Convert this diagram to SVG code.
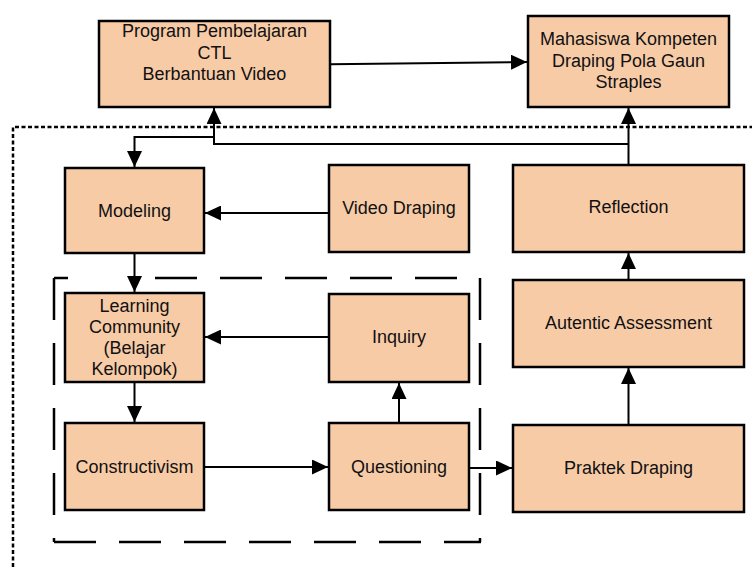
<svg xmlns="http://www.w3.org/2000/svg" width="752" height="568" viewBox="0 0 752 568">
<style>
.box{fill:#F8CBA7;stroke:#000;stroke-width:2.5}
.t{font-family:"Liberation Sans",Arial,sans-serif;font-size:18px;fill:#111;text-anchor:middle}
.c{fill:none;stroke:#000;stroke-width:2}
.dash{fill:none;stroke:#000;stroke-width:2.5;stroke-dasharray:42 23}
.dot{fill:none;stroke:#000;stroke-width:2.5;stroke-dasharray:4 2.5}
</style>
<defs>
<marker id="ah" viewBox="0 0 16 15" refX="16" refY="7.5" markerWidth="16" markerHeight="15" markerUnits="userSpaceOnUse" orient="auto">
<path d="M0,0 L16,7.5 L0,15 z" fill="#000"/>
</marker>
</defs>
<rect width="752" height="568" fill="#fff"/>
<g id="frame-dotted">
<path class="dot" d="M13,580 V127 H760"/>
</g>
<g id="frame-dashed">
<path class="dash" d="M54,278 H68"/>
<path class="dash" d="M155,278 H458"/>
<path class="dash" d="M54,278 V542"/>
<path class="dash" d="M480,278 V542"/>
<path class="dash" d="M54,542 H481"/>
</g>
<g id="program">
<rect class="box" x="99" y="21" width="231" height="86"/>
<text class="t" x="214.5" y="37">Program Pembelajaran</text>
<text class="t" x="214.5" y="59">CTL</text>
<text class="t" x="214.5" y="80">Berbantuan Video</text>
</g>
<g id="mahasiswa">
<rect class="box" x="528" y="16" width="201" height="91"/>
<text class="t" x="628.5" y="45">Mahasiswa Kompeten</text>
<text class="t" x="628.5" y="67">Draping Pola Gaun</text>
<text class="t" x="628.5" y="88">Straples</text>
</g>
<g id="modeling">
<rect class="box" x="65" y="168" width="139" height="85"/>
<text class="t" x="134.5" y="217">Modeling</text>
</g>
<g id="video">
<rect class="box" x="329" y="165" width="140" height="87"/>
<text class="t" x="399" y="214">Video Draping</text>
</g>
<g id="reflection">
<rect class="box" x="513" y="165" width="231" height="87"/>
<text class="t" x="628.5" y="213">Reflection</text>
</g>
<g id="learning">
<rect class="box" x="65" y="293" width="139" height="89"/>
<text class="t" x="134.5" y="311.5">Learning</text>
<text class="t" x="134.5" y="332.5">Community</text>
<text class="t" x="134.5" y="353.5">(Belajar</text>
<text class="t" x="134.5" y="374.5">Kelompok)</text>
</g>
<g id="inquiry">
<rect class="box" x="329" y="294" width="140" height="88"/>
<text class="t" x="399" y="343">Inquiry</text>
</g>
<g id="autentic">
<rect class="box" x="513" y="280" width="231" height="87"/>
<text class="t" x="628.5" y="329">Autentic Assessment</text>
</g>
<g id="constructivism">
<rect class="box" x="65" y="423" width="139" height="87"/>
<text class="t" x="134.5" y="473">Constructivism</text>
</g>
<g id="questioning">
<rect class="box" x="329" y="423" width="140" height="87"/>
<text class="t" x="399" y="473">Questioning</text>
</g>
<g id="praktek">
<rect class="box" x="513" y="425" width="231" height="87"/>
<text class="t" x="628.5" y="474">Praktek Draping</text>
</g>
<g id="connectors">
<path class="c" d="M330,64.3 L527,62" marker-end="url(#ah)"/>
<path class="c" d="M628.5,165 V108" marker-end="url(#ah)"/>
<path class="c" d="M628.5,144 H214 V108" marker-end="url(#ah)"/>
<path class="c" d="M214,137 H134.5 V167" marker-end="url(#ah)"/>
<path class="c" d="M329,213 H205" marker-end="url(#ah)"/>
<path class="c" d="M134.5,253 V292" marker-end="url(#ah)"/>
<path class="c" d="M329,337 H205" marker-end="url(#ah)"/>
<path class="c" d="M134.5,382 V422" marker-end="url(#ah)"/>
<path class="c" d="M204,467 H328" marker-end="url(#ah)"/>
<path class="c" d="M399,423 V383" marker-end="url(#ah)"/>
<path class="c" d="M469,468 H512" marker-end="url(#ah)"/>
<path class="c" d="M628.5,425 V368" marker-end="url(#ah)"/>
<path class="c" d="M628.5,280 V253" marker-end="url(#ah)"/>
</g>
</svg>
